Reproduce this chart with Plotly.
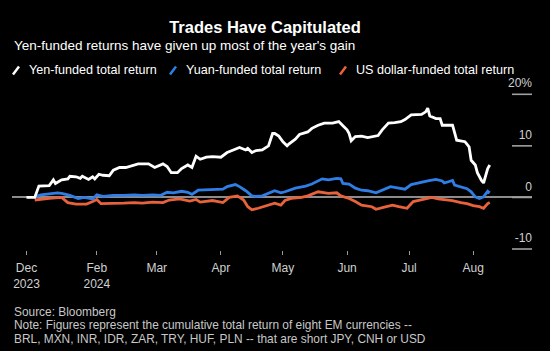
import plotly.graph_objects as go

# ---------------- data ----------------
yen_dates = ["2023-12-29","2024-01-02","2024-01-04","2024-01-06","2024-01-09","2024-01-11","2024-01-12",
             "2024-01-15","2024-01-18","2024-01-19","2024-01-22","2024-01-24","2024-01-25","2024-01-28",
             "2024-01-30","2024-01-31","2024-02-02","2024-02-04","2024-02-07","2024-02-09","2024-02-12",
             "2024-02-15","2024-02-17","2024-02-21","2024-02-23","2024-02-26","2024-02-29","2024-03-02",
             "2024-03-04","2024-03-06","2024-03-08","2024-03-11","2024-03-13","2024-03-16","2024-03-18",
             "2024-03-20","2024-03-22","2024-03-25","2024-03-28","2024-04-01","2024-04-04","2024-04-07",
             "2024-04-10","2024-04-13","2024-04-14","2024-04-16","2024-04-18","2024-04-21","2024-04-24",
             "2024-04-26","2024-04-27","2024-04-29","2024-05-01","2024-05-03","2024-05-04","2024-05-07",
             "2024-05-09","2024-05-13","2024-05-15","2024-05-18","2024-05-21","2024-05-25","2024-05-28",
             "2024-05-30","2024-06-01","2024-06-02","2024-06-03","2024-06-05","2024-06-08","2024-06-11",
             "2024-06-14","2024-06-16","2024-06-18","2024-06-21","2024-06-24","2024-06-27","2024-06-29",
             "2024-07-02","2024-07-07","2024-07-09","2024-07-10","2024-07-11","2024-07-14","2024-07-16",
             "2024-07-17","2024-07-20","2024-07-22","2024-07-24","2024-07-28","2024-07-30","2024-07-31",
             "2024-08-02","2024-08-03","2024-08-05","2024-08-06","2024-08-08","2024-08-09"]
yen_values = [0.0, 0.0, 2.2, 2.2, 2.3, 3.4, 2.7,
              3.4, 3.6, 4.1, 4.0, 3.7, 4.1, 3.5,
              4.0, 3.6, 4.5, 4.3, 4.2, 5.3, 5.8,
              5.8, 6.0, 6.5, 6.5, 6.5, 5.8, 6.2,
              6.5, 6.0, 4.8, 4.8, 5.6, 6.3, 5.8,
              8.0, 7.4, 7.8, 7.9, 7.8, 8.7, 9.2,
              9.7, 9.2, 9.5, 8.7, 9.1, 9.2, 10.0,
              12.4, 12.4, 11.9, 10.8, 10.0, 10.4, 11.3,
              12.2, 12.7, 13.4, 14.0, 14.4, 14.4, 14.7,
              13.9, 13.1, 12.4, 11.0, 11.8, 11.9, 11.6,
              11.8, 12.0, 13.1, 14.4, 14.5, 14.7, 15.1,
              16.0, 16.1, 16.6, 17.3, 15.8, 15.3, 15.3,
              14.0, 14.0, 14.0, 11.1, 10.8, 9.8, 7.2,
              6.3, 4.8, 3.3, 2.8, 5.6, 6.3]

yuan_dates = ["2024-01-02","2024-01-05","2024-01-09","2024-01-13","2024-01-15","2024-01-19","2024-01-23",
              "2024-01-26","2024-01-30","2024-02-01","2024-02-04","2024-02-09","2024-02-14","2024-02-19",
              "2024-02-23","2024-02-28","2024-03-03","2024-03-06","2024-03-09","2024-03-13","2024-03-16",
              "2024-03-18","2024-03-21","2024-03-25","2024-03-30","2024-04-02","2024-04-04","2024-04-08",
              "2024-04-10","2024-04-13","2024-04-16","2024-04-18","2024-04-21","2024-04-24","2024-04-27",
              "2024-04-30","2024-05-02","2024-05-07","2024-05-12","2024-05-15","2024-05-20","2024-05-23",
              "2024-05-27","2024-05-29","2024-05-30","2024-06-02","2024-06-05","2024-06-08","2024-06-11",
              "2024-06-15","2024-06-18","2024-06-22","2024-06-26","2024-06-29","2024-07-02","2024-07-05",
              "2024-07-10","2024-07-14","2024-07-17","2024-07-18","2024-07-22","2024-07-23","2024-07-26",
              "2024-07-29","2024-07-31","2024-08-02","2024-08-04","2024-08-06","2024-08-08","2024-08-09"]
yuan_values = [0.1, 0.5, 0.7, 0.9, 0.8, 0.4, -0.2,
               0.0, -0.3, 0.5, 0.2, 0.4, 0.4, 0.5,
               0.4, 0.5, 0.4, 1.0, 0.9, 1.2, 1.0,
               0.6, 1.4, 1.5, 1.5, 1.6, 2.1, 2.5,
               2.1, 1.3, 0.3, 0.2, 0.3, 0.8, 1.3,
               0.9, 1.1, 1.8, 2.2, 2.6, 3.6, 3.4,
               3.7, 3.6, 2.7, 2.6, 1.8, 1.4, 1.3,
               0.9, 1.4, 2.1, 1.8, 1.6, 2.5, 2.8,
               3.2, 3.5, 3.2, 2.8, 3.3, 2.4, 2.0,
               1.7, 1.1, 0.1, -0.2, 0.1, 1.2, 0.9]

usd_dates = ["2024-01-02","2024-01-06","2024-01-09","2024-01-15","2024-01-18","2024-01-22","2024-01-27",
             "2024-01-30","2024-02-01","2024-02-03","2024-02-09","2024-02-14","2024-02-19","2024-02-23",
             "2024-02-28","2024-03-04","2024-03-07","2024-03-12","2024-03-17","2024-03-20","2024-03-22",
             "2024-03-28","2024-04-02","2024-04-05","2024-04-09","2024-04-12","2024-04-14","2024-04-16",
             "2024-04-19","2024-04-23","2024-04-27","2024-04-30","2024-05-02","2024-05-05","2024-05-10",
             "2024-05-13","2024-05-18","2024-05-23","2024-05-27","2024-05-29","2024-06-02","2024-06-05",
             "2024-06-08","2024-06-13","2024-06-15","2024-06-19","2024-06-23","2024-06-26","2024-06-30",
             "2024-07-03","2024-07-07","2024-07-12","2024-07-15","2024-07-18","2024-07-22","2024-07-26",
             "2024-07-29","2024-08-01","2024-08-04","2024-08-06","2024-08-08","2024-08-09"]
usd_values = [-0.5, -0.3, -0.2, 0.0, -1.0, -1.3, -1.3,
              -0.8, -0.4, -1.2, -1.2, -1.1, -1.0, -1.1,
              -0.9, -1.0, -0.5, -0.3, -0.7, -0.4, -0.9,
              -0.6, -1.0, 0.0, 0.3, -0.5, -1.8, -2.4,
              -2.1, -1.6, -1.1, -1.5, -0.6, -0.2, 0.0,
              0.3, 1.1, 0.8, 0.9, 0.3, -0.2, -0.8,
              -1.5, -1.8, -2.3, -1.9, -1.5, -1.8, -2.1,
              -0.8, -0.5, 0.0, -0.3, -0.4, -0.6, -1.0,
              -1.2, -1.6, -1.8, -2.1, -1.2, -1.0]

series_names = ["Yen-funded total return", "Yuan-funded total return", "US dollar-funded total return"]
series_colors = ["#ffffff", "#2f7ee6", "#e8623c"]

x_tickvals = ["2023-12-29", "2024-02-01", "2024-03-01", "2024-04-01",
              "2024-05-01", "2024-06-01", "2024-07-01", "2024-08-01"]
x_ticktext = ["Dec<br>2023", "Feb<br>2024", "Mar", "Apr", "May", "Jun", "Jul", "Aug"]
y_tickvals = [-10, 0, 10, 20]
y_ticktext = ["-10", "0", "10", "20%"]

# ---------------- layout helpers ----------------
W, H = 550, 351
ML, MR, MT, MB = 12, 18, 60, 89          # plot area: x 12..532, y 60..262 (px)
PW, PH = W - ML - MR, H - MT - MB
AXIS_Y = 250                              # pixel row of the date axis
FONT = "Liberation Sans, Arial, sans-serif"
yr = [-12.52, 26.65]                      # value range of the plot area


def px(x):
    return (x - ML) / PW


def py(y):
    return (H - MB - y) / PH


def value_to_paper(v):
    return (v - yr[0]) / (yr[1] - yr[0])


fig = go.Figure()
all_series = [(yen_dates, yen_values), (yuan_dates, yuan_values), (usd_dates, usd_values)]
# draw order: orange, blue, then white on top (white on y2, which has the same range and carries the labels)
for idx in [2, 1, 0]:
    d, v = all_series[idx]
    fig.add_trace(go.Scatter(x=d, y=v, mode="lines", name=series_names[idx],
                             line=dict(color=series_colors[idx], width=2.8),
                             yaxis="y2" if idx == 0 else "y",
                             showlegend=False, hoverinfo="skip"))

fig.update_layout(
    width=W, height=H,
    margin=dict(l=ML, r=MR, t=MT, b=MB, pad=0),
    paper_bgcolor="#000000", plot_bgcolor="#000000",
    font=dict(family=FONT, color="#d0d0d0", size=12),
    title=dict(text="<b>Trades Have Capitulated</b>", x=265 / W, xref="container", xanchor="center",
               y=1 - 27 / H, yref="container", yanchor="middle",
               font=dict(family=FONT, size=16.5, color="#ffffff")),
    xaxis=dict(type="date", range=["2023-12-22", "2024-08-29 10:00"],
               anchor="free", position=py(AXIS_Y),
               tickvals=x_tickvals, ticktext=x_ticktext,
               ticks="outside", ticklen=4, tickwidth=1, tickcolor="#9a9a9a",
               ticklabelstandoff=3,
               showgrid=False, zeroline=False, showline=False,
               tickfont=dict(size=12, color="#d0d0d0")),
    yaxis=dict(range=yr, side="right", tickvals=y_tickvals, showticklabels=False,
               ticks="", showgrid=False, showline=False,
               zeroline=True, zerolinecolor="#8c8c8c", zerolinewidth=2),
    yaxis2=dict(range=yr, overlaying="y", anchor="free", position=1, side="left",
                tickvals=y_tickvals, ticktext=y_ticktext,
                ticks="", ticklabelshift=-11,
                showgrid=False, zeroline=False, showline=False,
                tickfont=dict(size=12, color="#d0d0d0")),
    hovermode=False,
)

shapes = []
# short tick segments under the value labels, at the tick values of the y scale
for v in y_tickvals:
    yp = value_to_paper(v)
    shapes.append(dict(type="line", xref="paper", yref="paper", x0=px(512), x1=1, y0=yp, y1=yp,
                       layer="above", line=dict(color="#a0a0a0", width=1.6)))

# subtitle
annotations = [
    dict(text="Yen-funded returns have given up most of the year's gain", x=px(12), y=py(45.5),
         xref="paper", yref="paper", xanchor="left", yanchor="middle", showarrow=False,
         font=dict(family=FONT, size=13.5, color="#ffffff")),
]
# custom legend (slanted swatches + labels)
legend_x = [13, 170, 340]
for i, name in enumerate(series_names):
    x0 = legend_x[i]
    shapes.append(dict(type="line", xref="paper", yref="paper",
                       x0=px(x0), y0=py(74.5), x1=px(x0 + 6), y1=py(66.5),
                       line=dict(color=series_colors[i], width=2.5)))
    annotations.append(dict(text=name, x=px(x0 + 14), y=py(70), xref="paper", yref="paper",
                            xanchor="left", yanchor="middle", showarrow=False,
                            font=dict(family=FONT, size=12.6, color="#ffffff")))
# footer
footer = ["Source: Bloomberg",
          "Note: Figures represent the cumulative total return of eight EM currencies --",
          "BRL, MXN, INR, IDR, ZAR, TRY, HUF, PLN -- that are short JPY, CNH or USD"]
footer_y = [312, 325.4, 338.7]
for t, yy in zip(footer, footer_y):
    annotations.append(dict(text=t, x=px(12), y=py(yy), xref="paper", yref="paper",
                            xanchor="left", yanchor="middle", showarrow=False,
                            font=dict(family=FONT, size=11.9, color="#c8c8c8")))

fig.update_layout(annotations=annotations, shapes=shapes)
fig.write_html("out.html")
